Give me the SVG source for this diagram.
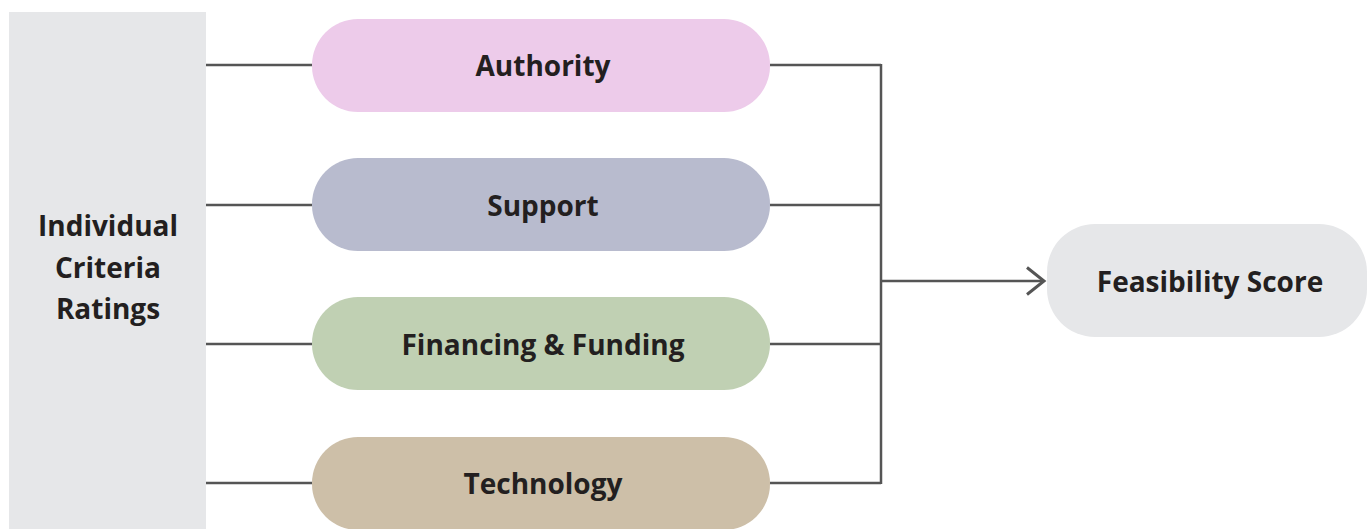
<svg xmlns="http://www.w3.org/2000/svg" width="1370" height="529" viewBox="0 0 1370 529">
<defs>
<style>
.t{font-family:"Open Sans","Liberation Sans",sans-serif;font-weight:bold;fill:#231f20;text-anchor:middle;dominant-baseline:central;font-size:28px}
.c{fill:none;stroke:#555;stroke-width:2.5}
</style>
<marker id="ah" viewBox="0 0 24 32" refX="20" refY="16" markerWidth="24" markerHeight="32" markerUnits="userSpaceOnUse" orient="auto">
<path d="M3,2.5 L20,16 L3,29.5" fill="none" stroke="#555" stroke-width="3"/>
</marker>
</defs>
<rect width="1370" height="529" fill="#fff"/>
<g id="criteria">
<rect x="9" y="12" width="197" height="517" fill="#E6E7E9"/>
<text class="t" x="108" y="225">Individual</text>
<text class="t" x="108" y="267">Criteria</text>
<text class="t" x="108" y="308">Ratings</text>
</g>
<g id="connectors">
<path class="c" d="M206,65H312M206,205H312M206,344H312M206,483H312"/>
<path class="c" d="M770,65H881M770,205H881M770,344H881M770,483H881M881,64V484"/>
<path class="c" d="M881,281H1044" marker-end="url(#ah)"/>
</g>
<g id="authority">
<rect x="312" y="19" width="458" height="93" rx="46" fill="#EDCBEA"/>
<text class="t" x="543" y="65">Authority</text>
</g>
<g id="support">
<rect x="312" y="158" width="458" height="93" rx="46" fill="#B8BBCE"/>
<text class="t" x="543" y="205">Support</text>
</g>
<g id="financing">
<rect x="312" y="297" width="458" height="93" rx="46" fill="#C0D0B3"/>
<text class="t" x="543" y="344">Financing &amp; Funding</text>
</g>
<g id="technology">
<rect x="312" y="437" width="458" height="93" rx="46" fill="#CDBFA8"/>
<text class="t" x="543" y="483">Technology</text>
</g>
<g id="feasibility">
<rect x="1047" y="224" width="320" height="113" rx="48" fill="#E6E7E9"/>
<text class="t" x="1210" y="281">Feasibility Score</text>
</g>
</svg>
